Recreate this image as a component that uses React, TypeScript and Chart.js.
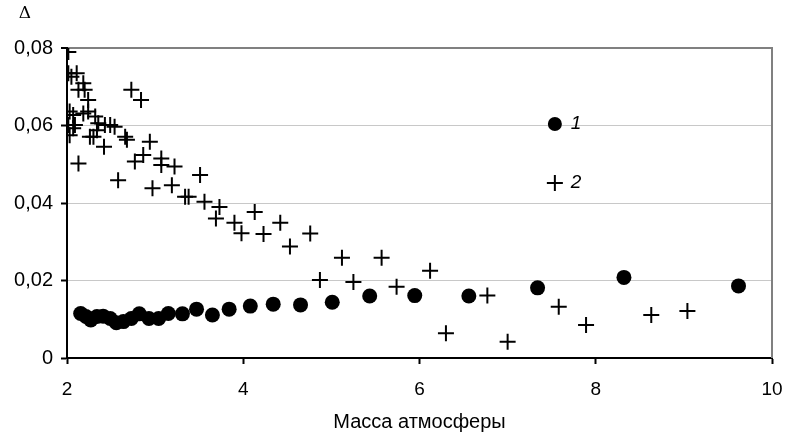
import React, { useEffect, useRef } from "react";
import { Chart, registerables } from "chart.js";

Chart.register(...registerables);

const xTitle = "Масса атмосферы";
const yTitle = "Δ";
const seriesNames = ["1", "2"];

const series1X = [2.155, 2.215, 2.27, 2.34, 2.41, 2.49, 2.56, 2.64, 2.73, 2.82, 2.93, 3.04, 3.15, 3.31, 3.47, 3.65, 3.84, 4.08, 4.34, 4.65, 5.01, 5.435, 5.946, 6.56, 7.34, 8.32, 9.62];
const series1Y = [0.0115, 0.0107, 0.0098, 0.0107, 0.0108, 0.0102, 0.0091, 0.0094, 0.0102, 0.0114, 0.0102, 0.0102, 0.0115, 0.0114, 0.0126, 0.0111, 0.0126, 0.0134, 0.0139, 0.0137, 0.0144, 0.016, 0.0161, 0.016, 0.0181, 0.0208, 0.0186];

const series2X = [2.015, 2.015, 2.05, 2.11, 2.13, 2.185, 2.2, 2.24, 2.03, 2.07, 2.185, 2.24, 2.32, 2.015, 2.07, 2.03, 2.09, 2.355, 2.43, 2.49, 2.54, 2.34, 2.26, 2.3, 2.66, 2.68, 2.42, 2.13, 2.58, 2.73, 2.84, 2.94, 2.865, 2.77, 3.07, 3.07, 3.22, 2.97, 3.19, 3.51, 3.34, 3.38, 3.56, 3.73, 3.69, 3.9, 3.98, 4.13, 4.23, 4.42, 4.53, 4.76, 4.87, 5.12, 5.25, 5.57, 5.74, 6.12, 6.3, 6.77, 7.0, 7.58, 7.89, 8.63, 9.04];
const series2Y = [0.079, 0.0735, 0.0726, 0.0735, 0.0692, 0.0709, 0.0692, 0.0666, 0.0636, 0.0627, 0.0631, 0.0636, 0.0623, 0.0601, 0.0593, 0.0575, 0.0601, 0.0606, 0.0601, 0.0601, 0.0597, 0.0588, 0.0571, 0.0571, 0.0571, 0.0563, 0.0545, 0.0502, 0.0459, 0.0692, 0.0666, 0.0558, 0.0524, 0.0507, 0.0515, 0.0498, 0.0494, 0.0438, 0.0446, 0.0472, 0.0416, 0.0416, 0.0403, 0.039, 0.036, 0.0349, 0.0322, 0.0377, 0.032, 0.0349, 0.0288, 0.0321, 0.0201, 0.0259, 0.0196, 0.0259, 0.0184, 0.0225, 0.0064, 0.0161, 0.0042, 0.0132, 0.0085, 0.0111, 0.0121];

const xMin = 2, xMax = 10, xStep = 2;
const yMin = 0, yMax = 0.08, yStep = 0.02;

const FONT = "'Liberation Sans', Arial, Helvetica, sans-serif";

const decor = {
  id: "decor",
  afterDraw(chart: any) {
    const { ctx, chartArea: a } = chart;
    ctx.save();
    // right border
    ctx.strokeStyle = "#808080";
    ctx.lineWidth = 2;
    ctx.beginPath();
    ctx.moveTo(a.right, a.top - 1);
    ctx.lineTo(a.right, a.bottom);
    ctx.stroke();
    // y title
    ctx.fillStyle = "#000";
    ctx.font = "17px 'DejaVu Serif', serif";
    ctx.textAlign = "center";
    ctx.textBaseline = "middle";
    ctx.fillText(yTitle, a.left - 42, a.top - 34);
    // legend
    const lx = a.left + (a.right - a.left) * 0.692;
    const ly1 = a.top + 76;
    const ly2 = a.top + 135;
    ctx.beginPath();
    ctx.arc(lx, ly1, 7, 0, Math.PI * 2);
    ctx.fill();
    ctx.lineWidth = 2;
    ctx.strokeStyle = "#000";
    ctx.beginPath();
    ctx.moveTo(lx - 8, ly2);
    ctx.lineTo(lx + 8, ly2);
    ctx.moveTo(lx, ly2 - 8);
    ctx.lineTo(lx, ly2 + 8);
    ctx.stroke();
    ctx.font = `italic 19px ${FONT}`;
    ctx.textAlign = "left";
    ctx.fillText(seriesNames[0], lx + 16, ly1);
    ctx.fillText(seriesNames[1], lx + 16, ly2);
    ctx.restore();
  },
};

export default function App() {
  const ref = useRef<HTMLCanvasElement>(null);
  useEffect(() => {
    const d1 = series1X.map((x, i) => ({ x, y: series1Y[i] }));
    const d2 = series2X.map((x, i) => ({ x, y: series2Y[i] }));
    const chart = new Chart(ref.current!, {
      type: "scatter",
      data: {
        datasets: [
          {
            label: seriesNames[1],
            data: d2,
            pointStyle: "cross",
            pointRadius: 8,
            borderColor: "#000",
            backgroundColor: "#000",
            borderWidth: 2,
          },
          {
            label: seriesNames[0],
            data: d1,
            pointStyle: "circle",
            pointRadius: 7.5,
            borderColor: "#000",
            backgroundColor: "#000",
            borderWidth: 0,
          },
        ],
      },
      plugins: [decor],
      options: {
        responsive: false,
        animation: false,
        layout: { padding: { top: 48, right: 15, left: 0, bottom: 0 } },
        plugins: { legend: { display: false }, tooltip: { enabled: false } },
        scales: {
          x: {
            type: "linear",
            min: xMin,
            max: xMax,
            afterFit: (s: any) => { s.height = 78; s.paddingRight = 0; s.paddingLeft = 0; },
            ticks: { stepSize: xStep, color: "#000", padding: 14, font: { family: FONT, size: 19 } },
            grid: { drawOnChartArea: false, drawTicks: true, tickLength: 6, tickColor: "#000", tickWidth: 2 },
            border: { color: "#000", width: 2 },
            title: { display: true, text: xTitle, color: "#000", font: { family: FONT, size: 20 }, padding: { top: 0, bottom: 2 } },
          },
          y: {
            type: "linear",
            min: yMin,
            max: yMax,
            afterFit: (s: any) => { s.width = 67; s.paddingTop = 0; s.paddingBottom = 0; },
            ticks: {
              stepSize: yStep,
              color: "#000",
              padding: 8,
              font: { family: FONT, size: 20 },
              callback: (v: any) => (Number(v) === 0 ? "0" : Number(v).toFixed(2).replace(".", ",")),
            },
            grid: {
              drawTicks: true,
              tickLength: 6,
              tickColor: "#000",
              tickWidth: 2,
              color: (c: any) => (c.tick && Math.abs(c.tick.value - yMax) < 1e-9 ? "#808080" : "#c8c8c8"),
              lineWidth: (c: any) => (c.tick && Math.abs(c.tick.value - yMax) < 1e-9 ? 2 : 1),
            },
            border: { color: "#000", width: 2 },
          },
        },
      },
    });
    return () => chart.destroy();
  }, []);
  return (
    <div style={{ position: "absolute", left: 0, top: 0, width: 787, height: 436, background: "#fff" }}>
      <canvas ref={ref} width={787} height={436} />
    </div>
  );
}
